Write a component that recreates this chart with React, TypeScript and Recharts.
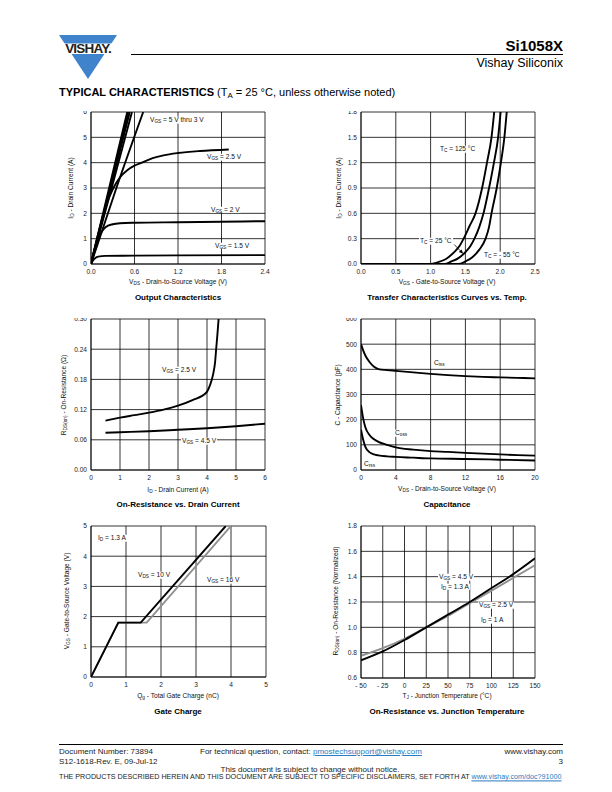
import React from 'react';
import { LineChart, Line, XAxis, YAxis, CartesianGrid, ReferenceLine } from 'recharts';

const FONT = '"Liberation Sans", Arial, Helvetica, sans-serif';
const GRAY = '#8f8f8f';
const BLUE = '#3f83cc';

// Output Characteristics: [VDS (V), ID (A)]
const OUT_X_TICKS = [0, 0.6, 1.2, 1.8, 2.4];
const OUT_Y_TICKS = [0, 1, 2, 3, 4, 5, 6];
const OUT_VGS5 = [[0, 0], [0.25, 3.0], [0.5, 6]];
const OUT_VGS45 = [[0, 0], [0.26, 3.0], [0.515, 6]];
const OUT_VGS4 = [[0, 0], [0.27, 3.0], [0.535, 6]];
const OUT_VGS35 = [[0, 0], [0.285, 3.0], [0.565, 6]];
const OUT_VGS3 = [[0, 0], [0.35, 3.0], [0.72, 6]];
const OUT_VGS25 = [[0, 0], [0.1, 1.2], [0.2, 2.25], [0.3, 2.95], [0.4, 3.42], [0.5, 3.7], [0.6, 3.88], [0.7, 4.0], [0.85, 4.18], [1.0, 4.29], [1.2, 4.38], [1.5, 4.46], [1.9, 4.52]];
const OUT_VGS2 = [[0, 0], [0.05, 0.6], [0.1, 1.0], [0.15, 1.28], [0.2, 1.45], [0.3, 1.57], [0.4, 1.61], [0.6, 1.63], [1.2, 1.65], [1.8, 1.67], [2.4, 1.69]];
const OUT_VGS15 = [[0, 0], [0.03, 0.15], [0.06, 0.24], [0.1, 0.29], [0.2, 0.32], [0.6, 0.33], [1.2, 0.34], [2.4, 0.35]];

// Transfer characteristics: [VGS (V), ID (A)]
const TR_X_TICKS = [0, 0.5, 1.0, 1.5, 2.0, 2.5];
const TR_Y_TICKS = [0, 0.3, 0.6, 0.9, 1.2, 1.5, 1.8];
const TR_125 = [[0, 0], [1.0, 0], [1.1, 0.02], [1.2, 0.05], [1.27, 0.09], [1.35, 0.15], [1.42, 0.22], [1.475, 0.3], [1.56, 0.45], [1.645, 0.6], [1.74, 0.9], [1.81, 1.2], [1.875, 1.5], [1.914, 1.8]];
const TR_25 = [[0, 0], [1.2, 0], [1.3, 0.03], [1.4, 0.07], [1.5, 0.14], [1.57, 0.21], [1.63, 0.3], [1.7, 0.44], [1.76, 0.6], [1.84, 0.9], [1.91, 1.2], [1.97, 1.5], [2.006, 1.8]];
const TR_M55 = [[0, 0], [1.4, 0], [1.5, 0.03], [1.6, 0.08], [1.7, 0.17], [1.79, 0.3], [1.84, 0.44], [1.875, 0.6], [1.95, 0.9], [2.01, 1.2], [2.06, 1.5], [2.094, 1.8]];

// On-resistance vs drain current: [ID (A), RDS(on) (ohm)]
const RID_X_TICKS = [0, 1, 2, 3, 4, 5, 6];
const RID_Y_TICKS = [0, 0.06, 0.12, 0.18, 0.24, 0.3];
const RID_VGS25 = [[0.5, 0.098], [1, 0.104], [1.5, 0.109], [2, 0.114], [2.5, 0.12], [3, 0.128], [3.5, 0.139], [3.98, 0.154], [4.1, 0.168], [4.21, 0.19], [4.28, 0.215], [4.32, 0.243], [4.36, 0.27], [4.4, 0.3]];
const RID_VGS45 = [[0.5, 0.074], [1, 0.075], [2, 0.077], [3, 0.08], [4, 0.083], [5, 0.087], [6, 0.092]];

// Capacitance: [VDS (V), C (pF)]
const CAP_X_TICKS = [0, 4, 8, 12, 16, 20];
const CAP_Y_TICKS = [0, 100, 200, 300, 400, 500, 600];
const CAP_CISS = [[0, 500], [0.25, 475], [0.5, 455], [1, 428], [1.5, 410], [2, 401], [3, 397], [4, 394], [6, 388], [8, 382], [10, 377], [12, 373], [14, 370], [16, 368], [18, 366], [20, 364]];
const CAP_COSS = [[0, 258], [0.25, 205], [0.5, 170], [1, 138], [1.5, 122], [2, 112], [3, 100], [4, 90], [6, 81], [8, 75], [10, 72], [12, 68], [14, 65], [16, 62], [18, 59], [20, 57]];
const CAP_CRSS = [[0, 160], [0.25, 120], [0.5, 92], [1, 70], [1.5, 62], [2, 58], [3, 54], [4, 52], [6, 49], [8, 46], [12, 44], [16, 41], [20, 38]];

// Gate charge: [Qg (nC), VGS (V)]
const QG_TICKS = [0, 1, 2, 3, 4, 5];
const QG_VDS10 = [[0, 0], [0.78, 1.8], [1.42, 1.8], [3.85, 5]];
const QG_VDS16 = [[0, 0], [0.78, 1.8], [1.59, 1.8], [4.0, 5]];

// On-resistance vs junction temperature: [TJ (C), normalized RDS(on)]
const RT_X_TICKS = [-50, -25, 0, 25, 50, 75, 100, 125, 150];
const RT_Y_TICKS = [0.6, 0.8, 1.0, 1.2, 1.4, 1.6, 1.8];
const RT_VGS45 = [[-50, 0.74], [-25, 0.81], [0, 0.9], [25, 1.0], [50, 1.1], [75, 1.2], [100, 1.31], [125, 1.42], [150, 1.545]];
const RT_VGS25 = [[-50, 0.775], [-25, 0.835], [0, 0.91], [25, 1.0], [50, 1.09], [75, 1.19], [100, 1.29], [125, 1.39], [150, 1.49]];

const pts = (a: number[][]) => a.map(([x, y]) => ({ x, y }));

type Box = { x: number; y: number; w: number; h: number };
type Series = { data: number[][]; color?: string; type?: 'monotone' | 'linear' };

const PAD_L = 40, PAD_T = 8, PAD_R = 8, PAD_B = 20;
const tickStyle = { fontSize: 6.6, fill: '#222', fontFamily: FONT };

function Panel(props: {
  box: Box; xDomain: number[]; xTicks: number[]; xFmt: (v: number) => string;
  yDomain: number[]; yTicks: number[]; yFmt: (v: number) => string;
  series: Series[]; cutTop?: boolean; children?: React.ReactNode;
}) {
  const { box } = props;
  return (
    <>
      <div style={{ position: 'absolute', left: box.x - PAD_L, top: box.y - PAD_T }}>
        <LineChart width={box.w + PAD_L + PAD_R} height={box.h + PAD_T + PAD_B}
          margin={{ top: PAD_T, right: PAD_R, bottom: 0, left: 0 }}>
          <CartesianGrid stroke="#000" strokeWidth={0.8} />
          <XAxis type="number" dataKey="x" domain={props.xDomain} ticks={props.xTicks}
            tickFormatter={props.xFmt} allowDataOverflow interval={0} height={PAD_B}
            tickSize={0} tickMargin={5} tick={tickStyle}
            axisLine={{ stroke: '#000', strokeWidth: 0.8 }} />
          <YAxis type="number" domain={props.yDomain} ticks={props.yTicks}
            tickFormatter={props.yFmt} allowDataOverflow interval={0} width={PAD_L}
            tickSize={0} tickMargin={4} tick={tickStyle}
            axisLine={{ stroke: '#000', strokeWidth: 0.8 }} />
          {props.series.map((s, i) => (
            <Line key={i} data={pts(s.data)} dataKey="y" type={s.type ?? 'monotone'}
              stroke={s.color ?? '#000'} strokeWidth={1.9} dot={false} activeDot={false}
              isAnimationActive={false} />
          ))}
          {props.children}
        </LineChart>
      </div>
      {props.cutTop && (
        <div style={{ position: 'absolute', left: box.x - 24, top: box.y - 6, width: 22, height: 5, background: '#fff' }} />
      )}
    </>
  );
}

const S = ({ children }: { children: React.ReactNode }) => (
  <sub style={{ fontSize: '0.72em', verticalAlign: '-0.3em', lineHeight: 0 }}>{children}</sub>
);

function T(props: {
  x: number; y: number; size?: number; bold?: boolean; align?: 'left' | 'center' | 'right';
  rotate?: boolean; bg?: boolean; color?: string; children: React.ReactNode;
}) {
  const size = props.size ?? 6.6;
  const tx = props.align === 'center' || props.rotate ? '-50%' : props.align === 'right' ? '-100%' : '0';
  return (
    <div style={{
      position: 'absolute', left: props.x, top: props.y, whiteSpace: 'nowrap',
      fontFamily: FONT, fontSize: size, lineHeight: 1, fontWeight: props.bold ? 700 : 400,
      color: props.color ?? '#111', background: props.bg ? '#fff' : undefined,
      padding: props.bg ? '0 1px' : undefined,
      transform: `translate(${tx}, -50%)${props.rotate ? ' rotate(-90deg)' : ''}`,
    }}>{props.children}</div>
  );
}

const f1 = (v: number) => v.toFixed(1);
const f0 = (v: number) => String(v);
const f2 = (v: number) => v.toFixed(2);
const fTemp = (v: number) => (v < 0 ? `- ${Math.abs(v)}` : String(v));

const Arrow = (p: any) => {
  const { x1, y1, x2, y2 } = p;
  const a = Math.atan2(y2 - y1, x2 - x1);
  const L = 4.5, W = 1.8;
  const bx = x2 - L * Math.cos(a), by = y2 - L * Math.sin(a);
  const nx = -Math.sin(a) * W, ny = Math.cos(a) * W;
  return (
    <g>
      <line x1={x1} y1={y1} x2={bx} y2={by} stroke="#000" strokeWidth={0.8} />
      <polygon points={`${x2},${y2} ${bx + nx},${by + ny} ${bx - nx},${by - ny}`} fill="#000" />
    </g>
  );
};

const LEFT = 91, RIGHT_X = 360.5, W = 174;
const ROW1 = 112.3, ROW2 = 319, ROW3 = 526.3;
const LINK = { color: '#2a7bc0', textDecoration: 'underline' };

export default function App() {
  return (
    <div style={{ position: 'absolute', left: 0, top: 0, width: 612, height: 792, background: '#fff', fontFamily: FONT, overflow: 'hidden' }}>
      {/* header */}
      <svg style={{ position: 'absolute', left: 0, top: 0 }} width={612} height={100}>
        <polygon points="59,35 117,35 88,79" fill={BLUE} />
        <rect x={55} y={43.5} width={66} height={10.5} fill="#fff" />
        <line x1={131} y1={54.5} x2={563} y2={54.5} stroke="#000" strokeWidth={1} />
      </svg>
      <T x={88} y={49} size={13.5} bold align="center" color="#222"><span style={{ letterSpacing: -0.8 }}>VISHAY.</span></T>
      <T x={563} y={45} size={15} bold align="right" color="#000">Si1058X</T>
      <T x={563} y={63} size={12.5} align="right" color="#000">Vishay Siliconix</T>
      <T x={59} y={92} size={11} color="#000">
        <b>TYPICAL CHARACTERISTICS</b> (T<S>A</S> = 25 °C, unless otherwise noted)
      </T>

      {/* 1: Output characteristics */}
      <Panel box={{ x: LEFT, y: ROW1, w: W, h: 152 }} xDomain={[0, 2.4]} xTicks={OUT_X_TICKS} xFmt={f1}
        yDomain={[0, 6]} yTicks={OUT_Y_TICKS} yFmt={f0} cutTop
        series={[{ data: OUT_VGS5 }, { data: OUT_VGS45 }, { data: OUT_VGS4 }, { data: OUT_VGS35 }, { data: OUT_VGS3 },
          { data: OUT_VGS25 }, { data: OUT_VGS2 }, { data: OUT_VGS15 }]} />
      <T x={149} y={120} bg>V<S>GS</S> = 5 V thru 3 V</T>
      <T x={206} y={157} bg>V<S>GS</S> = 2.5 V</T>
      <T x={210} y={209.5} bg>V<S>GS</S> = 2 V</T>
      <T x={214} y={245.5} bg>V<S>GS</S> = 1.5 V</T>
      <T x={178} y={282} align="center">V<S>DS</S> - Drain-to-Source Voltage (V)</T>
      <T x={71} y={188} rotate>I<S>D</S> - Drain Current (A)</T>
      <T x={178} y={297.5} size={8} bold align="center" color="#000">Output Characteristics</T>

      {/* 2: Transfer characteristics */}
      <Panel box={{ x: RIGHT_X, y: ROW1, w: W, h: 152 }} xDomain={[0, 2.5]} xTicks={TR_X_TICKS} xFmt={f1}
        yDomain={[0, 1.8]} yTicks={TR_Y_TICKS} yFmt={f1} cutTop
        series={[{ data: TR_125 }, { data: TR_25 }, { data: TR_M55 }]}>
        <ReferenceLine segment={[{ x: 1.34, y: 0.23 }, { x: 1.47, y: 0.12 }]} stroke="#000" shape={Arrow} ifOverflow="visible" />
      </Panel>
      <T x={439} y={149} bg>T<S>C</S> = 125 °C</T>
      <T x={419} y={241} bg>T<S>C</S> = 25 °C</T>
      <T x={483} y={255} bg>T<S>C</S> = - 55 °C</T>
      <T x={447} y={282} align="center">V<S>GS</S> - Gate-to-Source Voltage (V)</T>
      <T x={339} y={188} rotate>I<S>D</S> - Drain Current (A)</T>
      <T x={447} y={297.5} size={8} bold align="center" color="#000">Transfer Characteristics Curves vs. Temp.</T>

      {/* 3: On-resistance vs drain current */}
      <Panel box={{ x: LEFT, y: ROW2, w: W, h: 151 }} xDomain={[0, 6]} xTicks={RID_X_TICKS} xFmt={f0}
        yDomain={[0, 0.3]} yTicks={RID_Y_TICKS} yFmt={f2} cutTop
        series={[{ data: RID_VGS25 }, { data: RID_VGS45 }]} />
      <T x={161} y={370} bg>V<S>GS</S> = 2.5 V</T>
      <T x={181} y={441} bg>V<S>GS</S> = 4.5 V</T>
      <T x={178} y={490} align="center">I<S>D</S> - Drain Current (A)</T>
      <T x={64} y={395} rotate>R<S>DS(on)</S> - On-Resistance (Ω)</T>
      <T x={178} y={504.5} size={8} bold align="center" color="#000">On-Resistance vs. Drain Current</T>

      {/* 4: Capacitance */}
      <Panel box={{ x: RIGHT_X, y: ROW2, w: W, h: 151 }} xDomain={[0, 20]} xTicks={CAP_X_TICKS} xFmt={f0}
        yDomain={[0, 600]} yTicks={CAP_Y_TICKS} yFmt={f0} cutTop
        series={[{ data: CAP_CISS }, { data: CAP_COSS }, { data: CAP_CRSS }]} />
      <T x={433} y={363} bg>C<S>iss</S></T>
      <T x={394} y={433} bg>C<S>oss</S></T>
      <T x={363} y={464} bg>C<S>rss</S></T>
      <T x={447} y={489} align="center">V<S>DS</S> - Drain-to-Source Voltage (V)</T>
      <T x={338} y={395} rotate>C - Capacitance (pF)</T>
      <T x={447} y={504.5} size={8} bold align="center" color="#000">Capacitance</T>

      {/* 5: Gate charge */}
      <Panel box={{ x: LEFT, y: ROW3, w: W + 1, h: 151 }} xDomain={[0, 5]} xTicks={QG_TICKS} xFmt={f0}
        yDomain={[0, 5]} yTicks={QG_TICKS} yFmt={f0}
        series={[{ data: QG_VDS16, color: GRAY, type: 'linear' }, { data: QG_VDS10, type: 'linear' }]} />
      <T x={97} y={538} bg>I<S>D</S> = 1.3 A</T>
      <T x={137} y={575} bg>V<S>DS</S> = 10 V</T>
      <T x={206} y={580} bg>V<S>GS</S> = 16 V</T>
      <T x={178} y={696} align="center">Q<S>g</S> - Total Gate Charge (nC)</T>
      <T x={67} y={601} rotate>V<S>GS</S> - Gate-to-Source Voltage (V)</T>
      <T x={178} y={711.5} size={8} bold align="center" color="#000">Gate Charge</T>

      {/* 6: On-resistance vs junction temperature */}
      <Panel box={{ x: RIGHT_X, y: ROW3, w: W, h: 152 }} xDomain={[-50, 150]} xTicks={RT_X_TICKS} xFmt={fTemp}
        yDomain={[0.6, 1.8]} yTicks={RT_Y_TICKS} yFmt={f1}
        series={[{ data: RT_VGS25, color: GRAY }, { data: RT_VGS45 }]} />
      <T x={438} y={577} bg>V<S>GS</S> = 4.5 V</T>
      <T x={440} y={586.5} bg>I<S>D</S> = 1.3 A</T>
      <T x={478} y={605} bg>V<S>GS</S> = 2.5 V</T>
      <T x={480} y={620} bg>I<S>D</S> = 1 A</T>
      <T x={447} y={696} align="center">T<S>J</S> - Junction Temperature (°C)</T>
      <T x={336} y={601} rotate>R<S>DS(on)</S> - On-Resistance (Normalized)</T>
      <T x={447} y={711.5} size={8} bold align="center" color="#000">On-Resistance vs. Junction Temperature</T>

      {/* footer */}
      <div style={{ position: 'absolute', left: 59, top: 744, width: 504, height: 1.3, background: '#000' }} />
      <T x={59} y={752} size={8} color="#222">Document Number: 73894</T>
      <T x={59} y={762} size={8} color="#222">S12-1618-Rev. E, 09-Jul-12</T>
      <T x={200} y={752} size={8} color="#222">For technical question, contact: <span style={LINK}>pmostechsupport@vishay.com</span></T>
      <T x={563} y={752} size={8} align="right" color="#222">www.vishay.com</T>
      <T x={563} y={762} size={8} align="right" color="#222">3</T>
      <T x={310} y={770} size={8} align="center" color="#222">This document is subject to change without notice.</T>
      <T x={59} y={778} size={7.18} color="#222">THE PRODUCTS DESCRIBED HEREIN AND THIS DOCUMENT ARE SUBJECT TO SPECIFIC DISCLAIMERS, SET FORTH AT <span style={LINK}>www.vishay.com/doc?91000</span></T>
    </div>
  );
}
